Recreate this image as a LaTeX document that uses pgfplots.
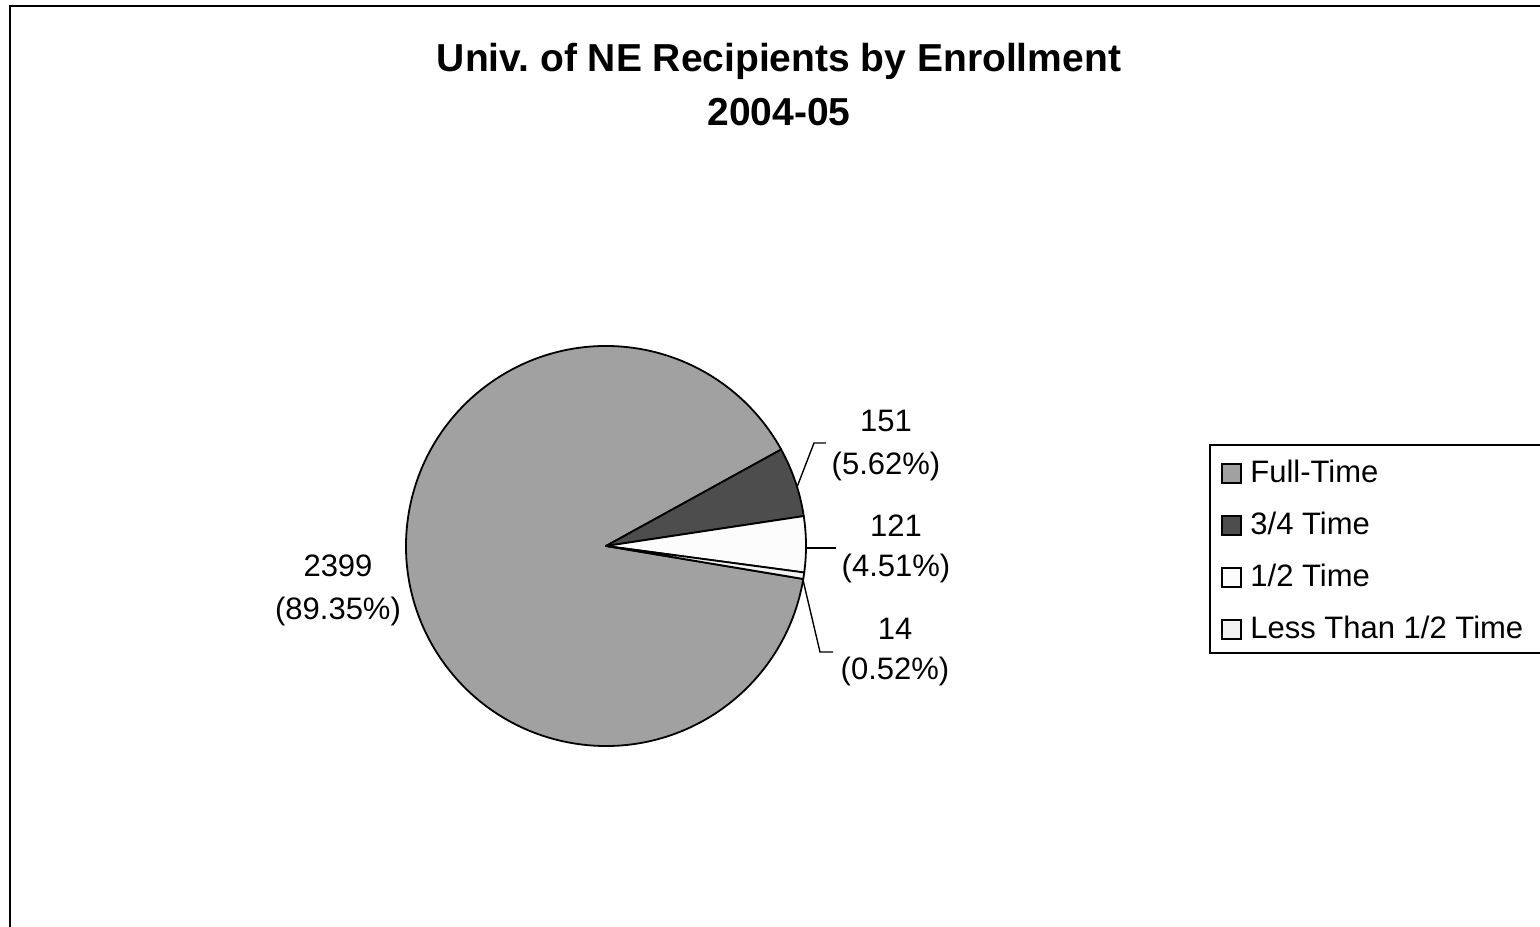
\documentclass[border=0pt]{standalone}
\usepackage{pgfplots}
\usepackage{pgfplotstable}
\pgfplotsset{compat=1.18}
\usepackage{fontspec}
\setmainfont{Liberation Sans}
\frenchspacing

\definecolor{fullc}{HTML}{A1A1A1}
\definecolor{threec}{HTML}{4D4D4D}
\definecolor{halfc}{HTML}{FCFCFC}
\definecolor{lessc}{HTML}{F2F2F2}

% recipients by enrollment, 2004-05
\pgfplotstableread[col sep=comma]{
name,count
Full-Time,2399
3/4 Time,151
1/2 Time,121
Less Than 1/2 Time,14
}\enrolltable

% slice angles from the counts (clockwise, first slice starts at -9.5 deg)
\pgfplotstablegetelem{0}{count}\of\enrolltable \let\vA\pgfplotsretval
\pgfplotstablegetelem{1}{count}\of\enrolltable \let\vB\pgfplotsretval
\pgfplotstablegetelem{2}{count}\of\enrolltable \let\vC\pgfplotsretval
\pgfplotstablegetelem{3}{count}\of\enrolltable \let\vD\pgfplotsretval
\pgfmathsetmacro\total{\vA+\vB+\vC+\vD}
\def\aO{-9.5}
\pgfmathsetmacro\aA{\aO-360*(\vA/\total)}
\pgfmathsetmacro\aB{\aA-360*(\vB/\total)}
\pgfmathsetmacro\aC{\aB-360*(\vC/\total)}
\pgfmathsetmacro\aD{\aC-360*(\vD/\total)}

\newcommand\sector[3]{%
  \filldraw[fill=#3, draw=black, line width=0.9pt, line join=round]
    (axis cs:606,380) -- (axis cs:{606+200*cos(#1)},{380+200*sin(#1)})
    arc[start angle=#1, end angle=#2, radius=100pt] -- cycle;}

\begin{document}
\begin{tikzpicture}
\begin{axis}[
  width=770pt, height=463pt, scale only axis,
  xmin=0, xmax=1540, ymin=0, ymax=926,
  hide axis, clip=false,
]
\coordinate (bbsw) at (axis cs:0,0);
\coordinate (bbne) at (axis cs:1540,926);
% frame
\draw[line width=1pt] (axis cs:10,-20) |- (axis cs:1560,920);

% title
\node[anchor=base, font=\fontsize{19.5}{24}\selectfont\bfseries] at (axis cs:779,854) {Univ.\ of NE Recipients by Enrollment};
\node[anchor=base, font=\fontsize{19.5}{24}\selectfont\bfseries] at (axis cs:779,800) {2004-05};

% pie
\sector{\aO}{\aA}{fullc}
\sector{\aA}{\aB}{threec}
\sector{\aB}{\aC}{halfc}
\sector{\aC}{\aD}{lessc}

% leader lines
\draw[line width=0.7pt] (axis cs:797,439) -- (axis cs:814,483) -- (axis cs:826,483);
\draw[line width=0.7pt] (axis cs:807,378) -- (axis cs:836,378);
\draw[line width=0.7pt] (axis cs:803,346) -- (axis cs:820,274) -- (axis cs:833,274);

% data labels
\begin{scope}[every node/.style={anchor=base, font=\fontsize{15.5}{19}\selectfont}]
\node at (axis cs:338,349) {2399};
\node at (axis cs:338,306) {(89.35\%)};
\node at (axis cs:886,494) {151};
\node at (axis cs:886,451) {(5.62\%)};
\node at (axis cs:896,389) {121};
\node at (axis cs:896,349) {(4.51\%)};
\node at (axis cs:895,286) {14};
\node at (axis cs:895,246) {(0.52\%)};
\end{scope}

% legend
\draw[line width=1pt] (axis cs:1560,481) -| (axis cs:1210,273) -- (axis cs:1560,273);
\begin{scope}[every node/.style={anchor=base west, inner sep=0pt, font=\fontsize{15.5}{19}\selectfont}]
\filldraw[fill=fullc, draw=black, line width=0.6pt] (axis cs:1222,443) rectangle (axis cs:1241,462);
\node at (axis cs:1250,443) {Full-Time};
\filldraw[fill=threec, draw=black, line width=0.6pt] (axis cs:1222,391) rectangle (axis cs:1241,410);
\node at (axis cs:1250,391) {3/4 Time};
\filldraw[fill=halfc, draw=black, line width=0.6pt] (axis cs:1222,339) rectangle (axis cs:1241,358);
\node at (axis cs:1250,339) {1/2 Time};
\filldraw[fill=lessc, draw=black, line width=0.6pt] (axis cs:1222,287) rectangle (axis cs:1241,306);
\node at (axis cs:1250,287) {Less Than 1/2 Time};
\end{scope}
\end{axis}
\pgfresetboundingbox
\path[use as bounding box] (bbsw) rectangle (bbne);
\end{tikzpicture}
\end{document}
